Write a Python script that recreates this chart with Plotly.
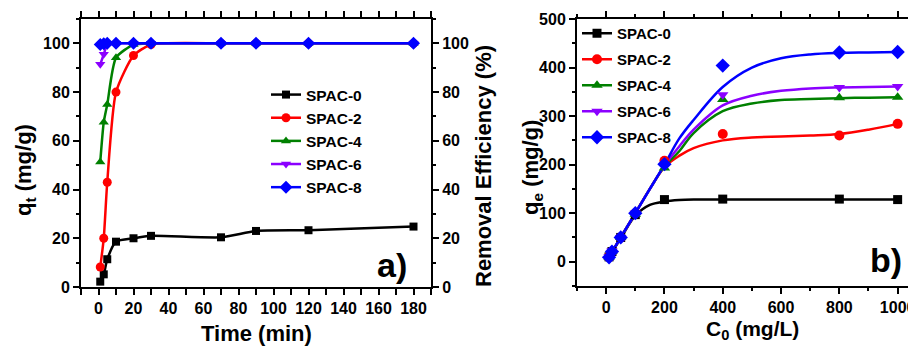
import plotly.graph_objects as go

# ---------------- Panel a data ----------------
time_min = [1, 3, 5, 10, 20, 30, 70, 90, 120, 180]
qt_spac0 = [2.2, 5.2, 11.4, 18.6, 20.0, 21.0, 20.4, 23.0, 23.3, 24.8]
qt_spac2 = [8.2, 20.0, 43.0, 80.0, 95.0, 99.5, 100, 100, 100, 100]
qt_spac4 = [51.3, 67.6, 74.9, 94.1, 99.5, 100, 100, 100, 100, 100]
qt_spac6 = [91.4, 95.5, 99.3, 100, 100, 100, 100, 100, 100, 100]
qt_spac8 = [99.5, 99.8, 100, 100, 100, 100, 100, 100, 100, 100]

# ---------------- Panel b data ----------------
c0 = [10, 20, 50, 100, 200, 400, 800, 1000]
qe_spac0 = [10, 21, 50, 97, 128, 129, 129, 128]
qe_spac2 = [10, 21, 50, 100, 208, 263, 260, 284]
qe_spac4 = [9, 21, 50, 98, 193, 334, 338, 339]
qe_spac6 = [10, 22, 50, 100, 197, 344, 359, 361]
qe_spac8 = [9, 21, 50, 100, 201, 404, 431, 432]

# fitted isotherm curves
fit_c0 = [10, 50, 100, 150, 200, 250, 300, 400, 500, 600, 700, 800, 900, 1000]
fit_spac0 = [10, 48, 95, 117, 124, 127, 128, 128, 128, 128, 128, 128, 128, 128]
fit_spac2 = [10, 50, 100, 150, 195, 218, 234, 250, 256, 258, 260, 263, 272, 284]
fit_spac4 = [10, 50, 100, 150, 196, 227, 265, 310, 326, 333, 335, 337, 338, 339]
fit_spac6 = [10, 50, 100, 150, 198, 237, 272, 322, 342, 352, 357, 359, 360, 361]
fit_spac8 = [10, 50, 100, 150, 200, 253, 292, 360, 400, 419, 427, 430, 431, 432]

names = ["SPAC-0", "SPAC-2", "SPAC-4", "SPAC-6", "SPAC-8"]
colors = ["#000000", "#FF0000", "#008000", "#8B00FF", "#0000FF"]
symbols = ["square", "circle", "triangle-up", "triangle-down", "diamond"]
msizes = [8, 9, 9, 9, 10]

FONT = "Liberation Sans, Arial, sans-serif"
OFF = 8                     # page body margin
W, H = 916 - OFF, 347 - OFF


def xp(px):
    return (px - OFF) / W


def yp(py):
    return (H - (py - OFF)) / H


fig = go.Figure()

qt_all = [qt_spac0, qt_spac2, qt_spac4, qt_spac6, qt_spac8]
for n, c, s, ms, y in zip(names, colors, symbols, msizes, qt_all):
    fig.add_trace(go.Scatter(
        x=time_min, y=y, name=n, mode="lines+markers",
        line=dict(color=c, width=2.5, shape="spline", smoothing=0.6),
        marker=dict(symbol=s, size=ms, color=c),
        xaxis="x", yaxis="y", legend="legend", legendgroup="a" + n))

fit_all = [fit_spac0, fit_spac2, fit_spac4, fit_spac6, fit_spac8]
qe_all = [qe_spac0, qe_spac2, qe_spac4, qe_spac6, qe_spac8]
for n, c, y in zip(names, colors, fit_all):
    fig.add_trace(go.Scatter(
        x=fit_c0, y=y, mode="lines", showlegend=False,
        line=dict(color=c, width=2.5, shape="spline", smoothing=1.0),
        xaxis="x2", yaxis="y3"))
for n, c, s, ms, y in zip(names, colors, symbols, msizes, qe_all):
    fig.add_trace(go.Scatter(
        x=c0, y=y, mode="markers", showlegend=False,
        marker=dict(symbol=s, size=ms + 1, color=c),
        xaxis="x2", yaxis="y3"))
for n, c, s, ms in zip(names, colors, symbols, msizes):
    fig.add_trace(go.Scatter(
        x=[None], y=[None], name=n, mode="lines+markers",
        line=dict(color=c, width=2.5), marker=dict(symbol=s, size=ms + 1, color=c),
        xaxis="x2", yaxis="y3", legend="legend2", legendgroup="b" + n))

# invisible trace so the right axis of panel a is drawn
fig.add_trace(go.Scatter(x=[None], y=[None], xaxis="x", yaxis="y2", showlegend=False))

tickfont = dict(family=FONT, size=16, color="black", weight="bold")
ax_common = dict(showline=True, linecolor="black", linewidth=2, ticks="outside",
                 ticklen=6, tickwidth=2, tickcolor="black", showgrid=False,
                 zeroline=False, tickfont=tickfont, automargin=False)


def minor(d):
    return dict(dtick=d, tick0=0, ticks="outside", ticklen=3, tickwidth=2, tickcolor="black")


fig.update_layout(
    width=W, height=H, margin=dict(l=0, r=0, t=0, b=0, pad=0, autoexpand=False),
    paper_bgcolor="white", plot_bgcolor="white",
    xaxis=dict(domain=[xp(81), xp(431)], range=[-10, 190], tick0=0, dtick=20,
               mirror="allticks", anchor="y", minor=minor(10), **ax_common),
    yaxis=dict(domain=[yp(287), yp(19)], range=[0, 110], tick0=0, dtick=20, anchor="x",
               minor=minor(10), **ax_common),
    yaxis2=dict(overlaying="y", side="right", range=[0, 110], tick0=0, dtick=20, anchor="x",
                minor=minor(10), **ax_common),
    xaxis2=dict(domain=[xp(577), 1.0], range=[-100, 1063], tick0=0, dtick=200,
                mirror="allticks", anchor="y3", minor=minor(100), **ax_common),
    yaxis3=dict(domain=[yp(286), yp(19)], range=[-50, 500], tick0=0, dtick=100, anchor="x2",
                minor=minor(50), **ax_common),
    legend=dict(x=xp(266), y=yp(78), xanchor="left", yanchor="top",
                bgcolor="rgba(0,0,0,0)", tracegroupgap=0,
                font=dict(family=FONT, size=15.5, color="black", weight="bold")),
    legend2=dict(x=xp(577), y=yp(17), xanchor="left", yanchor="top",
                 bgcolor="rgba(0,0,0,0)", tracegroupgap=3.5,
                 font=dict(family=FONT, size=15, color="black", weight="bold")),
)


def ann(text, x, y, size, angle=0):
    fig.add_annotation(text=text, x=xp(x), y=yp(y), xref="paper", yref="paper",
                       showarrow=False, textangle=angle, xanchor="center", yanchor="middle",
                       font=dict(family=FONT, size=size, color="black", weight="bold"))


ann("q<sub>t</sub> (mg/g)", 25, 170, 22, -90)
ann("Removal Efficiency (%)", 483, 166, 22, -90)
ann("Time (min)", 256, 333, 22)
ann("q<sub>e</sub> (mg/g)", 532, 168, 22, -90)
ann("C<sub>0</sub> (mg/L)", 752, 330, 21)
ann("a)", 392, 265, 34)
ann("b)", 886, 260, 34)

fig.write_html("out.html")
